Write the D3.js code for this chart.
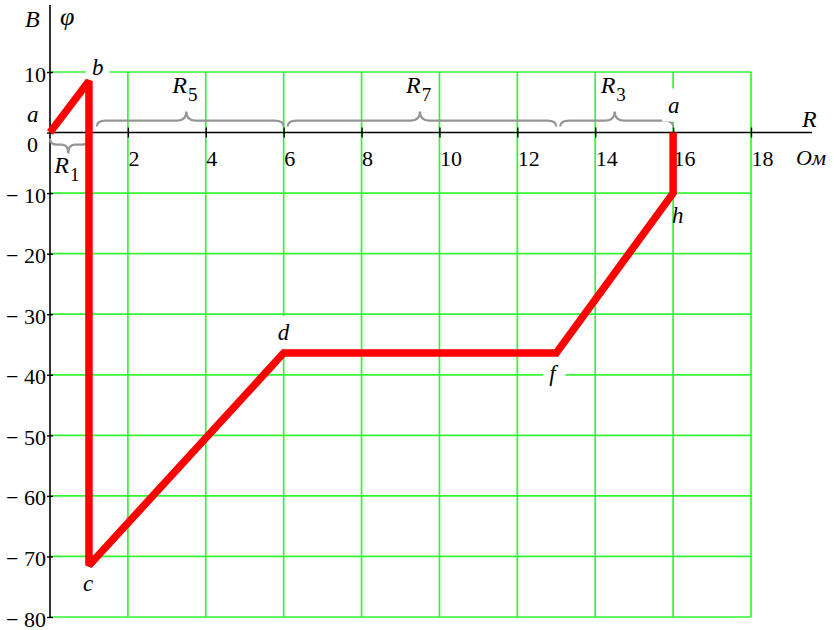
<!DOCTYPE html>
<html>
<head>
<meta charset="utf-8">
<script src="https://d3js.org/d3.v7.min.js"></script>
<style>
body { margin: 0; background: #fff; }
svg text { font-family: "Liberation Serif", "Times New Roman", serif; fill: #000; }
.it { font-style: italic; }
</style>
</head>
<body>
<svg id="chart" width="834" height="630"></svg>
<script>
// points of the potential diagram, walking round the loop a-b-c-d-f-h-a
var pointNames = ["a", "b", "c", "d", "f", "h", "a"];
var resistance = [0, 1, 1, 6, 13, 16, 16];          // Ом
var potential  = [0, 8.5, -71.5, -36.4, -36.4, -10, 0]; // В

// braces marking the resistors along the R axis
var braceNames = ["1", "5", "7", "3"];
var braceFrom  = [0, 1.2, 6.1, 13.1];
var braceTo    = [1, 6, 13, 16];
var braceTip   = [0.47, 3.5, 9.5, 14.5];

var xTicks = [2, 4, 6, 8, 10, 12, 14, 16, 18];
var yTicks = [10, 0, -10, -20, -30, -40, -50, -60, -70, -80];

var svg = d3.select("#chart");
var x = d3.scaleLinear().domain([0, 18]).range([50, 751]);
var y = d3.scaleLinear().domain([-80, 10]).range([617, 72]);
var green = "#33f533";

// grid
svg.append("g").selectAll("line").data(xTicks).enter().append("line")
    .attr("x1", function(d) { return x(d); })
    .attr("x2", function(d) { return x(d); })
    .attr("y1", y(10)).attr("y2", y(-80))
    .attr("stroke", green).attr("stroke-width", 1.7);
svg.append("g").selectAll("line").data(yTicks.filter(function(d) { return d != 0; })).enter().append("line")
    .attr("x1", x(0)).attr("x2", x(18))
    .attr("y1", function(d) { return y(d); })
    .attr("y2", function(d) { return y(d); })
    .attr("stroke", green).attr("stroke-width", 1.7);

// axis lines
svg.append("line").attr("x1", x(0)).attr("x2", x(0)).attr("y1", 5).attr("y2", y(-80))
    .attr("stroke", "#000").attr("stroke-width", 1.6);
svg.append("line").attr("x1", x(0)).attr("x2", 812).attr("y1", y(0)).attr("y2", y(0))
    .attr("stroke", "#000").attr("stroke-width", 1.6);

// x axis ticks + labels
var gx = svg.append("g").attr("transform", "translate(0," + y(0) + ")")
    .call(d3.axisBottom(x).tickValues(xTicks).tickSize(5).tickFormat(d3.format("d")));
gx.select(".domain").remove();
gx.selectAll(".tick line").attr("y1", -5).attr("y2", 5).attr("stroke-width", 1.4);
gx.selectAll(".tick text")
    .attr("font-family", "Liberation Serif").attr("font-size", 22)
    .attr("text-anchor", "start").attr("x", 0).attr("y", 33).attr("dy", null);

// y axis ticks + labels
var gy = svg.append("g").attr("transform", "translate(" + x(0) + ",0)")
    .call(d3.axisLeft(y).tickValues(yTicks).tickSize(3)
        .tickFormat(function(d) { return d < 0 ? "\u2212 " + (-d) : String(d); }));
gy.select(".domain").remove();
gy.selectAll(".tick line").attr("x1", -3).attr("x2", 3).attr("stroke-width", 1.4);
gy.selectAll(".tick text")
    .attr("font-family", "Liberation Serif").attr("font-size", 22)
    .attr("text-anchor", "end")
    .attr("x", function(d) { return d == 0 ? -12 : -4; })
    .attr("dy", function(d) { return d == 0 ? 19 : 9; });

// braces
function bracePath(x0, x1, xt, yE, yF, yT) {
    var r = Math.min(9, (x1 - x0) / 6);
    return "M" + x0 + "," + yE + " Q" + x0 + "," + yF + " " + (x0 + r) + "," + yF +
        " L" + (xt - r) + "," + yF + " Q" + xt + "," + yF + " " + xt + "," + yT +
        " Q" + xt + "," + yF + " " + (xt + r) + "," + yF +
        " L" + (x1 - r) + "," + yF + " Q" + x1 + "," + yF + " " + x1 + "," + yE;
}
braceNames.forEach(function(n, i) {
    var s = i == 0 ? 1 : -1;   // R1 sits under the axis
    var y0 = y(0);
    svg.append("path")
        .attr("d", bracePath(x(braceFrom[i]), x(braceTo[i]), x(braceTip[i]),
            y0 + s * 6, y0 + s * 12, y0 + s * 21))
        .attr("fill", "none").attr("stroke", "#959595").attr("stroke-width", 2.2);
    var t = svg.append("text")
        .attr("x", x(braceTip[i]) - 14)
        .attr("y", i == 0 ? y0 + 40 : y0 - 40)
        .attr("font-size", 24);
    t.append("tspan").attr("class", "it").text("R");
    t.append("tspan").attr("dx", 1).attr("dy", 8).attr("font-size", 19).text(n);
});

// point labels with white boxes (they hide the grid behind them)
var labelOffset = [[-23, -11], [3, -6], [-6, 25], [-6, -13], [-7, 28], [-1, 30], [-5, -20]];
var boxed = [false, true, false, true, true, false, true];
var lg = svg.append("g");
pointNames.forEach(function(n, i) {
    var t = lg.append("text").attr("class", "it")
        .attr("x", x(resistance[i]) + labelOffset[i][0])
        .attr("y", y(potential[i]) + labelOffset[i][1])
        .attr("font-size", 23).text(n);
    if (boxed[i]) {
        var b = t.node().getBBox();
        lg.insert("rect", "text")
            .attr("x", b.x - 6).attr("y", b.y - 4)
            .attr("width", b.width + 12).attr("height", b.height + 8)
            .attr("fill", "#fff");
    }
});

// the diagram itself
var idx = d3.range(resistance.length);
svg.append("path")
    .attr("d", d3.line()
        .x(function(i) { return x(resistance[i]); })
        .y(function(i) { return y(potential[i]); })(idx))
    .attr("fill", "none").attr("stroke", "#ff0000").attr("stroke-width", 7.5)
    .attr("stroke-linejoin", "miter").attr("stroke-miterlimit", 2);

// axis names
svg.append("text").attr("class", "it").attr("x", 25).attr("y", 27).attr("font-size", 24).text("B");
svg.append("text").attr("class", "it").attr("x", 60).attr("y", 25).attr("font-size", 26).text("\u03c6");
svg.append("text").attr("class", "it").attr("x", 802).attr("y", 127).attr("font-size", 24).text("R");
svg.append("text").attr("class", "it").attr("x", 796).attr("y", 165).attr("font-size", 22).text("Ом");
</script>
</body>
</html>
